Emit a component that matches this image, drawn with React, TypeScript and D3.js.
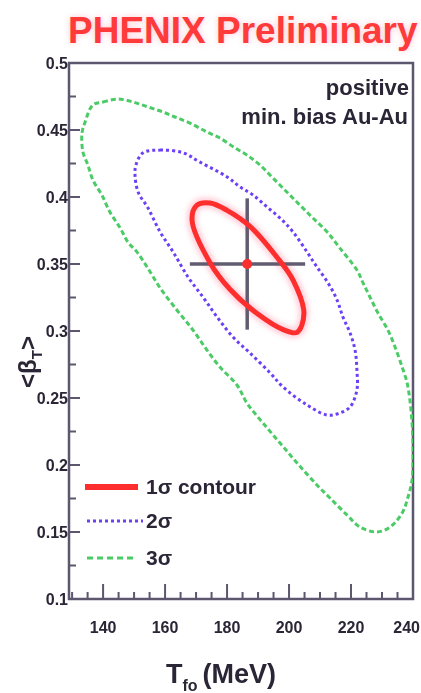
import React from "react";
import * as d3 from "d3";

const W = 421;
const H = 693;

// axis ticks
const T_MAJOR = [140, 160, 180, 200, 220, 240];
const T_MINOR = [130, 135, 145, 150, 155, 165, 170, 175, 185, 190, 195, 205, 210, 215, 225, 230, 235];
const B_MAJOR = [0.1, 0.15, 0.2, 0.25, 0.3, 0.35, 0.4, 0.45, 0.5];
const B_MAJOR_LABELS = ["0.1", "0.15", "0.2", "0.25", "0.3", "0.35", "0.4", "0.45", "0.5"];
const B_MINOR = [0.125, 0.175, 0.225, 0.275, 0.325, 0.375, 0.425, 0.475];

// best fit point and errors
const BEST_T = 186.5;
const BEST_B = 0.35;
const ERR_T = [168.0, 205.2];
const ERR_B = [0.301, 0.399];

// contours: [T (MeV), <beta_T>]
const SIGMA1: [number, number][] = [
  [170.3, 0.394], [174.5, 0.3955], [180.0, 0.39], [187.4, 0.378], [196.1, 0.355],
  [201.3, 0.338], [204.8, 0.313], [202.6, 0.299], [198.1, 0.301], [189.7, 0.313],
  [181.0, 0.331], [174.5, 0.351], [168.7, 0.383],
];
const SIGMA2: [number, number][] = [
  [152.9, 0.433], [158.4, 0.435], [165.8, 0.433], [171.3, 0.426], [180.0, 0.415],
  [184.2, 0.4075], [188.4, 0.4015], [192.9, 0.3925], [197.1, 0.3843], [201.3, 0.3739],
  [205.8, 0.359], [209.0, 0.3478], [212.6, 0.3358], [215.5, 0.3231], [217.4, 0.3104],
  [219.7, 0.2985], [221.3, 0.2858], [221.9, 0.2709], [221.9, 0.256], [219.7, 0.2433],
  [216.4, 0.2388], [212.3, 0.2373], [205.8, 0.2448], [198.1, 0.2582], [193.9, 0.2687],
  [187.4, 0.2836], [181.9, 0.2955], [176.8, 0.3104], [172.2, 0.3254], [167.4, 0.3403],
  [162.6, 0.359], [158.4, 0.3739], [154.5, 0.3918], [151.3, 0.4037], [150.3, 0.4164],
  [150.6, 0.4239],
];
const SIGMA3: [number, number][] = [
  [136.7, 0.4687], [140.0, 0.4709], [144.8, 0.4731], [149.7, 0.4709], [154.5, 0.4672],
  [159.3, 0.4634], [163.2, 0.4597], [168.0, 0.4552], [173.5, 0.4485], [177.7, 0.444],
  [182.6, 0.4366], [186.4, 0.4313], [190.6, 0.4239], [194.8, 0.4142], [199.3, 0.4037],
  [203.5, 0.394], [207.7, 0.3843], [212.3, 0.3739], [216.4, 0.3619], [221.9, 0.3455],
  [223.9, 0.3358], [226.1, 0.3254], [228.7, 0.3134], [231.9, 0.3007], [234.2, 0.2881],
  [236.5, 0.2731], [238.1, 0.2612], [239.0, 0.2485], [239.7, 0.2313], [240.0, 0.2149],
  [240.0, 0.2015], [239.7, 0.1888], [238.4, 0.1761], [236.5, 0.1642], [232.6, 0.1537],
  [228.4, 0.15], [222.9, 0.1537], [218.7, 0.1627], [213.2, 0.1754], [209.0, 0.1851],
  [202.6, 0.2015], [197.1, 0.2164], [191.6, 0.2313], [186.4, 0.2463], [183.2, 0.2597],
  [177.7, 0.2731], [173.5, 0.2858], [169.0, 0.3007], [163.8, 0.3157], [158.4, 0.3321],
  [154.2, 0.3478], [150.9, 0.359], [148.0, 0.3664], [145.5, 0.3769], [142.2, 0.3888],
  [139.6, 0.4015], [136.7, 0.4127], [135.1, 0.4239], [133.5, 0.4336], [133.2, 0.4478],
  [134.2, 0.456],
];

const LEGEND_LABELS = ["1σ contour", "2σ", "3σ"];

const FONT = "'Liberation Sans', Arial, Helvetica, sans-serif";
const AXIS = "#5c566e";
const INK = "#2a2536";
const RED = "#ff2d2d";
const BLUE = "#6c3ff5";
const GREEN = "#4ccb66";

export default function App() {
  const x = d3.scaleLinear().domain([129, 240]).range([69, 413]);
  const y = d3.scaleLinear().domain([0.1, 0.5]).range([599, 63]);
  const line = d3
    .line<[number, number]>()
    .x((d) => x(d[0]))
    .y((d) => y(d[1]))
    .curve(d3.curveCatmullRomClosed.alpha(0.5));

  const x0 = x.range()[0];
  const x1 = x.range()[1];
  const y0 = y.range()[0];
  const y1 = y.range()[1];

  return (
    <svg
      width={W}
      height={H}
      style={{ position: "absolute", left: 0, top: 0, background: "#fff" }}
      fontFamily={FONT}
    >
      <defs>
        <filter id="glow" x="-20%" y="-50%" width="140%" height="200%">
          <feGaussianBlur stdDeviation="3" />
        </filter>
        <filter id="soft" x="-10%" y="-10%" width="120%" height="120%">
          <feGaussianBlur stdDeviation="2.5" />
        </filter>
        <filter id="blur1" x="-10%" y="-10%" width="120%" height="120%">
          <feGaussianBlur stdDeviation="0.6" />
        </filter>
        <clipPath id="plot">
          <rect x={x0} y={y1} width={x1 - x0} height={y0 - y1} />
        </clipPath>
      </defs>

      {/* title */}
      <text x={68} y={43} fontSize={37} fontWeight="bold" fill="#ff9aae" opacity={0.55} filter="url(#glow)">
        PHENIX Preliminary
      </text>
      <text x={68} y={43} fontSize={37} fontWeight="bold" fill="#ff3a3a">
        PHENIX Preliminary
      </text>

      <g filter="url(#blur1)">
        {/* frame */}
        <rect x={x0} y={y1} width={x1 - x0} height={y0 - y1} fill="none" stroke={AXIS} strokeWidth={2.5} />

        {/* x ticks */}
        {T_MAJOR.map((t) => (
          <line key={"tM" + t} x1={x(t)} x2={x(t)} y1={y0} y2={y0 - 15} stroke={AXIS} strokeWidth={2} />
        ))}
        {T_MINOR.map((t) => (
          <line key={"tm" + t} x1={x(t)} x2={x(t)} y1={y0} y2={y0 - 7} stroke={AXIS} strokeWidth={2} />
        ))}
        {T_MAJOR.map((t, i) => {
          const last = i === T_MAJOR.length - 1;
          return (
            <text
              key={"tl" + t}
              x={last ? W - 1 : x(t)}
              y={633}
              fontSize={16}
              fontWeight="bold"
              textAnchor={last ? "end" : "middle"}
              fill={INK}
            >
              {t}
            </text>
          );
        })}

        {/* y ticks */}
        {B_MAJOR.map((b) => (
          <line key={"bM" + b} x1={x0} x2={x0 + 11} y1={y(b)} y2={y(b)} stroke={AXIS} strokeWidth={2} />
        ))}
        {B_MINOR.map((b) => (
          <line key={"bm" + b} x1={x0} x2={x0 + 7} y1={y(b)} y2={y(b)} stroke={AXIS} strokeWidth={2} />
        ))}
        {B_MAJOR.map((b, i) => (
          <text key={"bl" + b} x={x0 - 1} y={y(b)} dy="0.36em" fontSize={16} fontWeight="bold" textAnchor="end" fill={INK}>
            {B_MAJOR_LABELS[i]}
          </text>
        ))}

        {/* axis titles */}
        <text x={166} y={683} fontSize={27} fontWeight="bold" fill={INK}>
          T<tspan fontSize={16} dy={8}>fo</tspan>
          <tspan dy={-8} dx={5}>(MeV)</tspan>
        </text>
        <text transform="translate(36,362) rotate(-90)" fontSize={24} fontWeight="bold" textAnchor="middle" fill={INK}>
          {"<β"}
          <tspan fontSize={15} dy={6}>T</tspan>
          <tspan dy={-6}>{">"}</tspan>
        </text>

        {/* labels */}
        <text x={409} y={95} fontSize={22} fontWeight="bold" textAnchor="end" fill={INK}>
          positive
        </text>
        <text x={408} y={124} fontSize={22} fontWeight="bold" textAnchor="end" fill={INK}>
          min. bias Au-Au
        </text>

        {/* contours */}
        <g clipPath="url(#plot)">
          <path d={line(SIGMA3) ?? ""} fill="none" stroke={GREEN} strokeWidth={3} strokeDasharray="5,3" />
          <path d={line(SIGMA2) ?? ""} fill="none" stroke={BLUE} strokeWidth={3} strokeDasharray="3,3" />
          <path d={line(SIGMA1) ?? ""} fill="none" stroke="#ffb3c4" strokeWidth={11} opacity={0.6} filter="url(#soft)" />
          <line x1={x(ERR_T[0])} x2={x(ERR_T[1])} y1={y(BEST_B)} y2={y(BEST_B)} stroke="#625c70" strokeWidth={3.5} />
          <line x1={x(BEST_T)} x2={x(BEST_T)} y1={y(ERR_B[0])} y2={y(ERR_B[1])} stroke="#625c70" strokeWidth={3.5} />
          <path d={line(SIGMA1) ?? ""} fill="none" stroke={RED} strokeWidth={5} />
          <circle cx={x(BEST_T)} cy={y(BEST_B)} r={5} fill={RED} />
        </g>

        {/* legend */}
        <line x1={85} x2={138} y1={487} y2={487} stroke={RED} strokeWidth={6} />
        <line x1={87} x2={143} y1={521} y2={521} stroke={BLUE} strokeWidth={3} strokeDasharray="3,3" />
        <line x1={87} x2={137} y1={558} y2={558} stroke={GREEN} strokeWidth={3} strokeDasharray="6,4" />
        <text x={146} y={494} fontSize={21} fontWeight="bold" fill={INK}>
          {LEGEND_LABELS[0]}
        </text>
        <text x={146} y={528} fontSize={21} fontWeight="bold" fill={INK}>
          {LEGEND_LABELS[1]}
        </text>
        <text x={146} y={565} fontSize={21} fontWeight="bold" fill={INK}>
          {LEGEND_LABELS[2]}
        </text>
      </g>
    </svg>
  );
}
